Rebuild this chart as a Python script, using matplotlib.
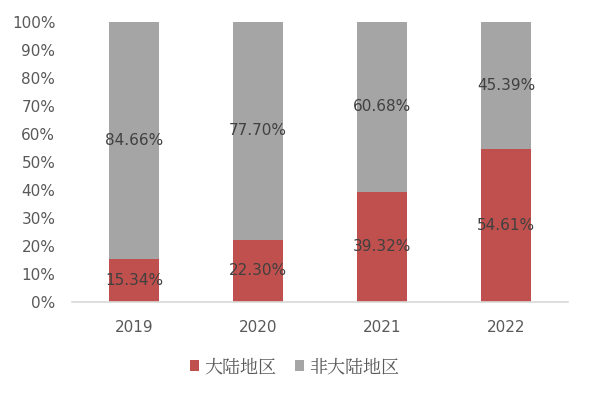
import matplotlib
matplotlib.use('Agg')
import matplotlib.pyplot as plt
import numpy as np

plt.rcParams['font.family'] = ['DejaVu Sans', 'Noto Sans CJK SC']

years = ['2019', '2020', '2021', '2022']
mainland = [15.34, 22.30, 39.32, 54.61]
non_mainland = [84.66, 77.70, 60.68, 45.39]
series_names = ['大陆地区', '非大陆地区']

red = '#C0504D'
gray = '#A5A5A5'

fig = plt.figure(figsize=(5.89, 3.95), dpi=100)
ax = fig.add_axes([72 / 589, 1 - 302 / 395, 496 / 589, 280 / 395])

x = np.arange(len(years))
b1 = ax.bar(x, mainland, width=0.4, color=red, label=series_names[0])
b2 = ax.bar(x, non_mainland, width=0.4, bottom=mainland, color=gray, label=series_names[1])

for bars, vals in ((b1, mainland), (b2, non_mainland)):
    ax.bar_label(bars, labels=['{:.2f}%'.format(v) for v in vals], label_type='center',
                 fontsize=11, color='#404040')

ax.set_xlim(-0.5, len(years) - 0.5)
ax.set_ylim(0, 100)
ax.set_yticks(range(0, 101, 10))
ax.set_yticklabels(['{}%'.format(v) for v in range(0, 101, 10)])
ax.set_xticks(x)
ax.set_xticklabels(years)
ax.tick_params(length=0, labelsize=11, colors='#595959')
ax.tick_params(axis='x', pad=13)
ax.tick_params(axis='y', pad=12)

for s in ['top', 'right', 'left']:
    ax.spines[s].set_visible(False)
ax.spines['bottom'].set_color('#D9D9D9')
ax.spines['bottom'].set_linewidth(1.2)

leg = fig.legend(loc='center', bbox_to_anchor=(0.5, 1 - 367 / 395), ncol=2, frameon=False,
                 handlelength=0.5, handleheight=0.5, handletextpad=0.3, columnspacing=1.0,
                 prop={'family': ['Noto Serif CJK SC', 'Noto Sans CJK SC'], 'size': 13})
for t in leg.get_texts():
    t.set_color('#595959')

fig.savefig('out.png', dpi=100)
